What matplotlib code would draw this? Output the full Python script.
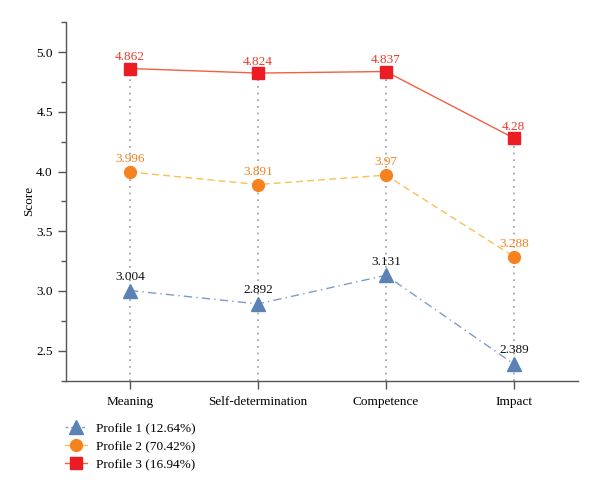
import matplotlib
matplotlib.use("Agg")
import matplotlib.pyplot as plt
from matplotlib.ticker import MultipleLocator
from matplotlib.lines import Line2D

plt.rcParams['font.family'] = ['Liberation Serif', 'DejaVu Serif']

categories = ["Meaning", "Self-determination", "Competence", "Impact"]
profile1 = [3.004, 2.892, 3.131, 2.389]
profile2 = [3.996, 3.891, 3.97, 3.288]
profile3 = [4.862, 4.824, 4.837, 4.28]
labels1 = ["3.004", "2.892", "3.131", "2.389"]
labels2 = ["3.996", "3.891", "3.97", "3.288"]
labels3 = ["4.862", "4.824", "4.837", "4.28"]
names = ["Profile 1 (12.64%)", "Profile 2 (70.42%)", "Profile 3 (16.94%)"]

c1_line, c1_mark = "#7d9cc9", "#5b82b5"
c2_line, c2_mark = "#f8c150", "#f5821f"
c3_line, c3_mark = "#f26040", "#ec1c24"
ls1 = (0, (6, 3, 1, 3))
ls2 = (0, (5, 3))

fig = plt.figure(figsize=(6, 4.93), dpi=100)
ax = fig.add_axes([0.11, 0.228, 0.853, 0.727])

x = list(range(len(categories)))
ymin = 2.25
ax.vlines(x, ymin, profile3, colors="#9a9a9a", linestyles=(0, (1, 3)), linewidth=1.2, zorder=1)

ax.plot(x, profile1, color=c1_line, linestyle=ls1, linewidth=1.0, zorder=2)
ax.plot(x, profile1, linestyle="none", marker="^", markersize=9.5, color=c1_mark, zorder=3)
ax.plot(x, profile2, color=c2_line, linestyle=ls2, linewidth=1.0, zorder=2)
ax.plot(x, profile2, linestyle="none", marker="o", markersize=8.5, color=c2_mark, zorder=3)
ax.plot(x, profile3, color=c3_line, linestyle="-", linewidth=1.0, zorder=2)
ax.plot(x, profile3, linestyle="none", marker="s", markersize=8, color=c3_mark, zorder=3)

fs = 9.5
for xi, v, t in zip(x, profile1, labels1):
    ax.annotate(t, (xi, v), xytext=(0, 5.5), textcoords="offset points", ha="center", va="bottom", fontsize=fs, color="#111111")
for xi, v, t in zip(x, profile2, labels2):
    ax.annotate(t, (xi, v), xytext=(0, 5), textcoords="offset points", ha="center", va="bottom", fontsize=fs, color=c2_mark)
for xi, v, t in zip(x, profile3, labels3):
    ax.annotate(t, (xi, v), xytext=(0, 4), textcoords="offset points", ha="center", va="bottom", fontsize=fs, color="#f03a28")

ax.set_xlim(-0.5, 3.5)
ax.set_ylim(ymin, 5.25)
ax.set_xticks(x)
ax.set_xticklabels(categories, fontsize=fs)
ax.yaxis.set_minor_locator(MultipleLocator(0.25))
ax.set_yticks([2.5, 3.0, 3.5, 4.0, 4.5, 5.0])
ax.set_yticklabels(["2.5", "3.0", "3.5", "4.0", "4.5", "5.0"], fontsize=fs)
ax.set_ylabel("Score", fontsize=fs, labelpad=0.5)
for s in ["top", "right"]:
    ax.spines[s].set_visible(False)
for s in ["left", "bottom"]:
    ax.spines[s].set_color("#555555")
    ax.spines[s].set_linewidth(1.0)
ax.tick_params(axis="both", which="major", length=6, color="#555555", width=1.0, pad=3.5)
ax.tick_params(axis="x", which="major", pad=5)
ax.tick_params(axis="y", which="minor", length=3.6, color="#555555", width=1.0)
ax.tick_params(axis="x", which="minor", length=0)

handles = [
    Line2D([], [], color=c1_line, linestyle=(0, (2, 2)), linewidth=1.0, marker="^", markersize=9.5, markerfacecolor=c1_mark, markeredgecolor=c1_mark),
    Line2D([], [], color=c2_line, linestyle="-", linewidth=1.0, marker="o", markersize=8.5, markerfacecolor=c2_mark, markeredgecolor=c2_mark),
    Line2D([], [], color=c3_line, linestyle="-", linewidth=1.0, marker="s", markersize=8, markerfacecolor=c3_mark, markeredgecolor=c3_mark),
]
fig.legend(handles, names, loc="upper left", bbox_to_anchor=(0.108, 0.144), frameon=False,
           fontsize=fs, handlelength=1.7, labelspacing=0.44, handletextpad=0.65, borderaxespad=0,
           borderpad=0)

fig.savefig("out.png", dpi=100)
